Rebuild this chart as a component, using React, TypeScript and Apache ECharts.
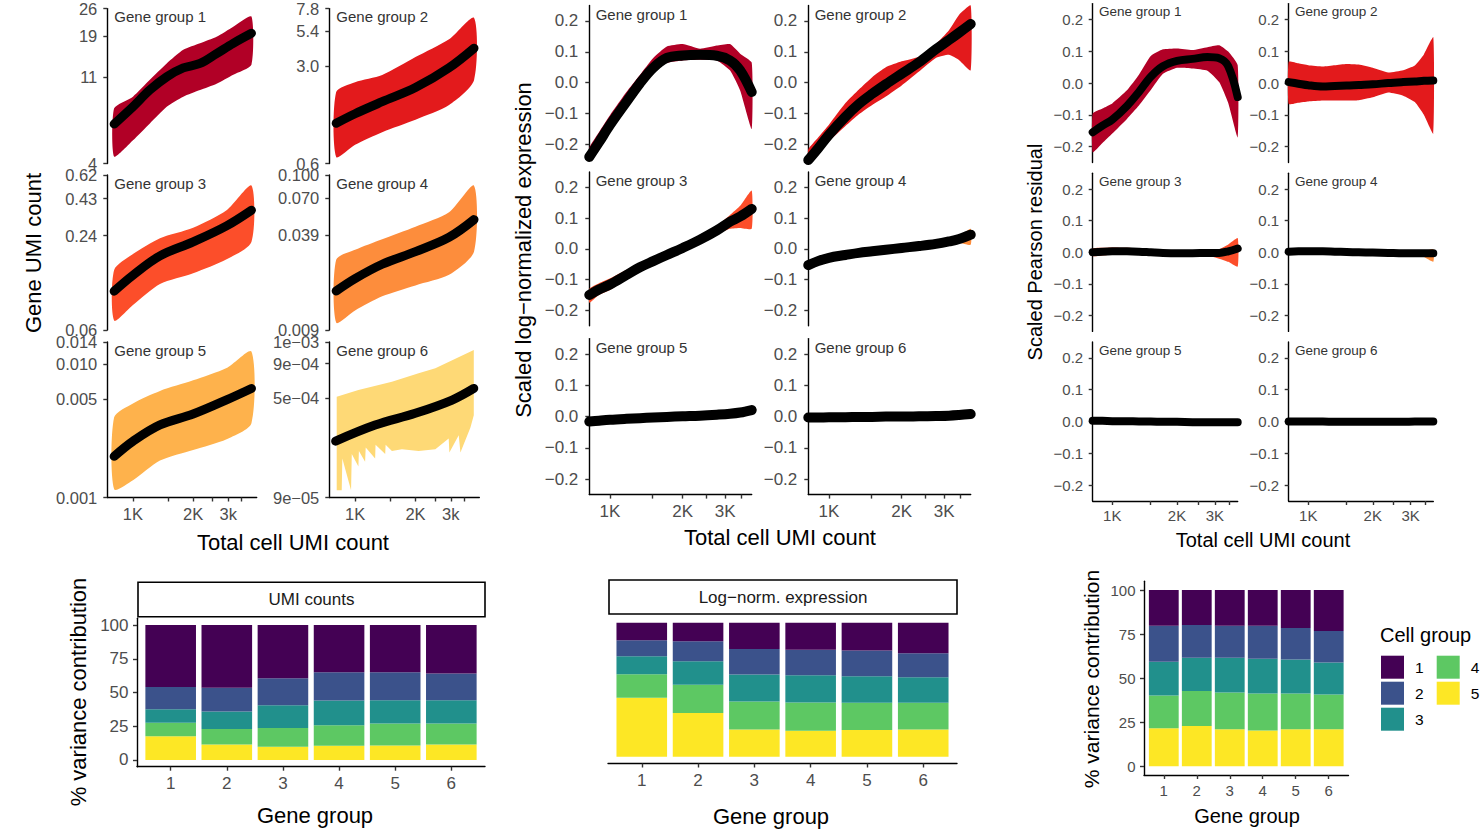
import React, { useEffect, useRef } from 'react';
import * as echarts from 'echarts';

const FONT = '"Liberation Sans", Arial, Helvetica, sans-serif';

// ---------------- data ----------------
const GENE_GROUPS = ['1', '2', '3', '4', '5', '6'];
const CELL_GROUPS = ['1', '2', '3', '4', '5'];
const GENE_IDS = [1, 2, 3, 4, 5, 6];
const GROUP_COLORS = ['#B10026', '#E31A1C', '#FC4E2A', '#FD8D3C', '#FEB24C', '#FED976'];
const CELL_COLORS = ['#440154', '#3B528B', '#21908C', '#5DC863', '#FDE725'];

const X_TICKS = [1000, 1500, 2000, 2500, 3000, 3500];
const X_LABELS_UMI = ['1K', '', '2K', '', '3k', ''];
const X_LABELS = ['1K', '', '2K', '', '3K', ''];

// Block A: gene UMI count (log axes)
const UMI1_X = [805, 1000, 1215, 1475, 1785, 2165, 2620, 3175, 3915];
const UMI1_MEAN = [6.45, 7.95, 9.73, 11.4, 12.7, 13.4, 15.1, 17.1, 19.3];
const UMI1_UPPER = [7.8, 8.98, 11.0, 13.4, 15.8, 17.1, 18.5, 20.9, 23.6];
const UMI1_LOWER = [4.35, 5.3, 6.5, 7.95, 8.98, 9.73, 10.5, 11.7, 13.2];
const UMI_X = [805, 1000, 1365, 2000, 2940, 3915];
const UMI_MEAN = [
  [1.17, 1.37, 1.67, 2.11, 2.93, 4.05],
  [0.105, 0.134, 0.18, 0.223, 0.285, 0.362],
  [0.0165, 0.02, 0.025, 0.0304, 0.038, 0.05],
  [0.00201, 0.0026, 0.00343, 0.00412, 0.00524, 0.00636],
];
const UMI_UPPER = [
  [1.96, 2.31, 2.6, 3.5, 4.7, 6.7],
  [0.145, 0.185, 0.236, 0.277, 0.362, 0.528],
  [0.0268, 0.0313, 0.0369, 0.0448, 0.056, 0.0847],
  [0.0039, 0.00494, 0.0061, 0.0073, 0.009, 0.0119],
];
const UMI_LOWER = [
  [0.67, 0.82, 1.01, 1.24, 1.58, 2.38],
  [0.067, 0.085, 0.117, 0.138, 0.171, 0.223],
  [0.0101, 0.0122, 0.0152, 0.018, 0.0212, 0.0304],
  [0.00115, 0.00134, 0.00187, 0.00224, 0.00269, 0.00353],
];
const UMI6_MEAN_X = [800, 1259, 1995, 3045, 3905];
const UMI6_MEAN = [2.37e-4, 3.12e-4, 3.82e-4, 4.8e-4, 5.86e-4];
const UMI6_UPPER_X = [810, 1039, 1526, 2073, 2512, 3905];
const UMI6_UPPER = [5.08e-4, 5.7e-4, 6.58e-4, 7.6e-4, 8.28e-4, 1.135e-3];
const UMI6_LOWER_X = [810, 858, 864, 955, 963, 1039, 1045, 1122, 1130, 1259, 1265, 1413, 1420, 1526, 1712, 2073, 2512, 2928, 2951, 3285, 3350, 3758, 3905];
const UMI6_LOWER = [1.02e-4, 1.02e-4, 1.76e-4, 1.02e-4, 1.9e-4, 1.53e-4, 2.0e-4, 1.66e-4, 2.12e-4, 1.76e-4, 2.23e-4, 1.9e-4, 2.23e-4, 2.0e-4, 2.06e-4, 2.0e-4, 2.06e-4, 2.48e-4, 1.95e-4, 2.62e-4, 1.95e-4, 2.99e-4, 3.7e-4];
const UMI_Y_TICKS = [
  [4, 11.333, 18.667, 26],
  [0.6, 3.0, 5.4, 7.8],
  [0.058, 0.245, 0.4325, 0.62],
  [0.009, 0.0393, 0.0697, 0.1],
  [0.001, 0.00533, 0.00967, 0.014],
  [9e-5, 4.93e-4, 8.97e-4, 1.3e-3],
];
const UMI_Y_LABELS = [
  ['4', '11', '19', '26'],
  ['0.6', '3.0', '5.4', '7.8'],
  ['0.06', '0.24', '0.43', '0.62'],
  ['0.009', '0.039', '0.070', '0.100'],
  ['0.001', '0.005', '0.010', '0.014'],
  ['9e\u221205', '5e\u221204', '9e\u221204', '1e\u221203'],
];

// Block B: scaled log-normalized expression
const LOG_X = [821, 900, 1000, 1170, 1330, 1510, 1720, 2000, 2360, 2770, 3140, 3460, 3863];
const LOG_MEAN = [
  [-0.24, -0.193, -0.137, -0.062, -0.002, 0.048, 0.08, 0.088, 0.09, 0.087, 0.072, 0.04, -0.03],
  [-0.25, -0.213, -0.168, -0.11, -0.069, -0.036, -0.005, 0.029, 0.066, 0.108, 0.138, 0.162, 0.19],
  [-0.15, -0.132, -0.116, -0.085, -0.06, -0.04, -0.02, 0.003, 0.03, 0.06, 0.088, 0.105, 0.13],
  [-0.053, -0.04, -0.029, -0.02, -0.013, -0.008, -0.003, 0.003, 0.009, 0.016, 0.024, 0.032, 0.046],
  [-0.016, -0.013, -0.01, -0.007, -0.005, -0.003, -0.001, 0.001, 0.003, 0.006, 0.009, 0.013, 0.021],
  [-0.003, -0.003, -0.002, -0.002, -0.001, -0.001, 0.0, 0.0, 0.001, 0.002, 0.003, 0.005, 0.008],
];
const LOG_UPPER = [
  [-0.21, -0.16, -0.105, -0.03, 0.025, 0.08, 0.117, 0.125, 0.11, 0.12, 0.125, 0.094, 0.065],
  [-0.215, -0.178, -0.136, -0.066, -0.022, 0.018, 0.05, 0.069, 0.084, 0.125, 0.17, 0.22, 0.26],
  [-0.13, -0.112, -0.096, -0.068, -0.045, -0.027, -0.01, 0.012, 0.04, 0.075, 0.11, 0.14, 0.19],
  [-0.043, -0.032, -0.022, -0.014, -0.008, -0.003, 0.002, 0.008, 0.014, 0.021, 0.03, 0.04, 0.065],
  [-0.012, -0.009, -0.006, -0.003, -0.001, 0.001, 0.003, 0.005, 0.007, 0.01, 0.013, 0.018, 0.026],
  [0.0, 0.0, 0.001, 0.001, 0.002, 0.002, 0.003, 0.003, 0.004, 0.005, 0.006, 0.008, 0.011],
];
const LOG_LOWER = [
  [-0.255, -0.21, -0.16, -0.085, -0.02, 0.035, 0.064, 0.072, 0.074, 0.072, 0.04, -0.025, -0.15],
  [-0.27, -0.232, -0.19, -0.14, -0.102, -0.072, -0.045, -0.009, 0.036, 0.08, 0.09, 0.073, 0.04],
  [-0.175, -0.15, -0.134, -0.1, -0.075, -0.053, -0.03, -0.005, 0.022, 0.048, 0.065, 0.068, 0.065],
  [-0.068, -0.05, -0.036, -0.026, -0.018, -0.013, -0.008, -0.003, 0.003, 0.01, 0.016, 0.02, 0.013],
  [-0.021, -0.018, -0.015, -0.012, -0.01, -0.008, -0.006, -0.004, -0.002, 0.001, 0.004, 0.006, 0.006],
  [-0.006, -0.006, -0.005, -0.005, -0.004, -0.004, -0.003, -0.003, -0.002, -0.001, 0.0, 0.002, 0.004],
];

// Block C: scaled Pearson residual
const PR_X = [811, 900, 1000, 1170, 1330, 1510, 1720, 2000, 2360, 2770, 3140, 3460, 3829];
const PR_MEAN = [
  [-0.155, -0.134, -0.115, -0.072, -0.028, 0.02, 0.053, 0.07, 0.076, 0.082, 0.078, 0.053, -0.044],
  [0.003, -0.002, -0.007, -0.011, -0.009, -0.008, -0.006, -0.004, 0.0, 0.003, 0.005, 0.007, 0.008],
  [0.0, 0.002, 0.003, 0.003, 0.002, 0.0, -0.002, -0.003, -0.003, -0.002, -0.002, 0.003, 0.012],
  [0.002, 0.003, 0.003, 0.003, 0.002, 0.001, 0.0, -0.001, -0.002, -0.003, -0.003, -0.003, -0.003],
  [0.002, 0.002, 0.001, 0.001, 0.0, 0.0, -0.001, -0.001, -0.002, -0.002, -0.002, -0.002, -0.002],
  [0.0, 0.0, 0.0, 0.0, -0.001, -0.001, -0.001, -0.001, -0.001, -0.001, 0.0, 0.0, 0.0],
];
const PR_UPPER = [
  [-0.096, -0.08, -0.064, -0.023, 0.026, 0.085, 0.106, 0.109, 0.104, 0.113, 0.119, 0.099, 0.056],
  [0.067, 0.062, 0.056, 0.052, 0.056, 0.06, 0.058, 0.048, 0.033, 0.04, 0.055, 0.09, 0.144],
  [0.012, 0.014, 0.015, 0.014, 0.012, 0.008, 0.003, 0.0, 0.0, 0.003, 0.01, 0.025, 0.045],
  [0.006, 0.007, 0.007, 0.007, 0.006, 0.005, 0.004, 0.003, 0.002, 0.001, 0.001, 0.003, 0.01],
  [0.005, 0.005, 0.004, 0.004, 0.003, 0.003, 0.002, 0.002, 0.001, 0.001, 0.001, 0.001, 0.002],
  [0.003, 0.003, 0.003, 0.003, 0.002, 0.002, 0.002, 0.002, 0.002, 0.002, 0.003, 0.003, 0.004],
];
const PR_LOWER = [
  [-0.218, -0.189, -0.159, -0.113, -0.071, -0.022, 0.029, 0.048, 0.046, 0.039, 0.003, -0.063, -0.171],
  [-0.066, -0.062, -0.058, -0.055, -0.055, -0.055, -0.054, -0.045, -0.03, -0.04, -0.06, -0.1, -0.159],
  [-0.012, -0.01, -0.008, -0.007, -0.008, -0.009, -0.01, -0.008, -0.007, -0.01, -0.02, -0.03, -0.045],
  [-0.004, -0.003, -0.003, -0.003, -0.004, -0.005, -0.006, -0.007, -0.008, -0.009, -0.01, -0.015, -0.03],
  [-0.002, -0.002, -0.003, -0.003, -0.004, -0.004, -0.005, -0.005, -0.006, -0.006, -0.006, -0.008, -0.012],
  [-0.003, -0.003, -0.003, -0.003, -0.004, -0.004, -0.004, -0.004, -0.004, -0.004, -0.004, -0.004, -0.005],
];
const SCALED_TICKS = [-0.2, -0.1, 0, 0.1, 0.2];
const SCALED_LABELS = ['\u22120.2', '\u22120.1', '0.0', '0.1', '0.2'];

// % variance contribution, per cell group (rows) x gene group (cols)
const UMI_SHARE = [
  [46, 46.5, 39.5, 35, 35, 36],
  [16.5, 17.5, 20, 21, 20.75, 19.75],
  [10, 13, 16.75, 18.25, 17.25, 17.25],
  [10, 11.5, 14, 15.25, 16.25, 15.5],
  [17.5, 11.5, 9.75, 10.5, 10.75, 11.5],
];
const LOG_SHARE = [
  [13, 13.75, 19.7, 20.1, 20.8, 22.8],
  [12, 15, 19, 19.1, 19.2, 17.9],
  [13.5, 17.5, 20, 20.4, 19.7, 19],
  [17.5, 21, 21, 21, 20.3, 20],
  [44, 32.75, 20.3, 19.4, 20, 20.3],
];
const PR_SHARE = [
  [20.3, 19.8, 20.3, 20.3, 21.5, 23.2],
  [20.4, 18.6, 18.1, 18.7, 18, 18],
  [19.2, 18.9, 19.8, 19.8, 19.3, 18.1],
  [18.6, 19.9, 20.9, 20.9, 20.3, 19.8],
  [21.5, 22.8, 20.9, 20.3, 20.9, 20.9],
];
const PCT_TICKS = [0, 25, 50, 75, 100];

// ---------------- layout ----------------
const BLOCKS = [
  { cols: [[107.3, 256.7], [329.3, 479.3]], rows: [[8.6, 163.6], [175, 330], [342, 497.5]], xRange: [744, 4160], tickFont: 16.5, titleFont: 15, lineW: 9, dx: 7, dy: 8.2, yMargin: 10, xMargin: 8 },
  { cols: [[589.3, 751.7], [808.3, 970.7]], rows: [[5.4, 160], [172, 325.7], [338.6, 494.6]], xRange: [821, 3863], tickFont: 17, titleFont: 15, lineW: 10, dx: 6.4, dy: 8.9, yMargin: 11, xMargin: 8 },
  { cols: [[1092.7, 1237.7], [1288.7, 1433.3]], rows: [[3.6, 162.5], [173.2, 331.4], [342, 501]], xRange: [811, 3829], tickFont: 15, titleFont: 13.5, lineW: 8, dx: 6.3, dy: 8.2, yMargin: 9.5, xMargin: 7 },
];

const AXIS_LINE = { color: '#000', width: 1.4 };
const TICK_LINE = { color: '#333', width: 1.4 };
const TICK_COLOR = '#4D4D4D';

function nearest(v: number, ticks: number[], labels: string[]) {
  let b = 0;
  for (let i = 1; i < ticks.length; i++) if (Math.abs(ticks[i] - v) < Math.abs(ticks[b] - v)) b = i;
  return labels[b];
}

function buildOption() {
  const grids: any[] = [];
  const xAxes: any[] = [];
  const yAxes: any[] = [];
  const series: any[] = [];
  const graphics: any[] = [];

  const addPanel = (p: any) => {
    const i = grids.length;
    grids.push({ left: p.left, top: p.top, width: p.width, height: p.height, containLabel: false, outerBoundsMode: 'none' });
    const xt = X_TICKS.map(Math.log10);
    xAxes.push({
      type: 'value', gridIndex: i, min: Math.log10(p.xRange[0]), max: Math.log10(p.xRange[1]),
      axisLine: { show: p.bottom, onZero: false, lineStyle: AXIS_LINE },
      axisTick: { show: p.bottom, customValues: xt, length: 4, lineStyle: TICK_LINE },
      axisLabel: { show: p.bottom, customValues: xt, margin: p.xMargin, fontSize: p.tickFont, color: TICK_COLOR, fontFamily: FONT,
        formatter: (v: number) => nearest(v, xt, p.xLabels) },
      splitLine: { show: false },
    });
    const ty = (v: number) => (p.yLog ? Math.log10(v) : v);
    const yt = p.yTicks.map(ty);
    yAxes.push({
      type: 'value', gridIndex: i, min: ty(p.yRange[0]), max: ty(p.yRange[1]),
      axisLine: { show: true, onZero: false, lineStyle: AXIS_LINE },
      axisTick: { show: true, customValues: yt, length: 4, lineStyle: TICK_LINE },
      axisLabel: { show: true, customValues: yt, margin: p.yMargin, fontSize: p.tickFont, color: TICK_COLOR, fontFamily: FONT,
        formatter: (v: number) => nearest(v, yt, p.yLabels) },
      splitLine: { show: false },
    });
    const upper = p.upX.map((x: number, k: number) => [Math.log10(x), ty(p.up[k])]);
    const lower = p.loX.map((x: number, k: number) => [Math.log10(x), ty(p.lo[k])]).reverse();
    const poly = upper.concat(lower);
    const color = p.color;
    const smooth = p.smooth;
    series.push({
      type: 'custom', xAxisIndex: i, yAxisIndex: i, silent: true, z: 2,
      encode: { x: 0, y: 1 },
      data: [[poly[0][0], Math.max(Math.min(poly[0][1], ty(p.yRange[1])), ty(p.yRange[0]))]],
      renderItem: (params: any, api: any) => {
        const cs = params.coordSys;
        const pts = poly.map((q: number[]) => {
          const c = api.coord(q);
          return [c[0], Math.min(Math.max(c[1], cs.y), cs.y + cs.height)];
        });
        return { type: 'polygon', shape: { points: pts, smooth }, style: { fill: color } };
      },
    });
    series.push({
      type: 'line', xAxisIndex: i, yAxisIndex: i, silent: true, z: 3,
      data: p.meanX.map((x: number, k: number) => [Math.log10(x), ty(p.mean[k])]),
      smooth: 0.35, symbol: 'none',
      lineStyle: { color: '#000', width: p.lineW, cap: 'round', join: 'round' },
    });
    graphics.push({
      type: 'text', x: p.left + p.dx, y: p.top + p.dy, silent: true,
      style: { text: 'Gene group ' + p.name, fontSize: p.titleFont, fontFamily: FONT, fill: '#333', align: 'left', verticalAlign: 'middle' },
    });
  };

  // three faceted blocks
  BLOCKS.forEach((B, bi) => {
    for (let g = 0; g < 6; g++) {
      const col = B.cols[g % 2];
      const row = B.rows[Math.floor(g / 2)];
      const base: any = {
        left: col[0], top: row[0], width: col[1] - col[0], height: row[1] - row[0],
        xRange: B.xRange, bottom: g >= 4, tickFont: B.tickFont, titleFont: B.titleFont, lineW: B.lineW,
        dx: B.dx, dy: B.dy, yMargin: B.yMargin, xMargin: B.xMargin, color: GROUP_COLORS[g], name: GENE_GROUPS[g],
      };
      if (bi === 0) {
        base.xLabels = X_LABELS_UMI;
        base.yLog = true;
        base.yTicks = UMI_Y_TICKS[g];
        base.yLabels = UMI_Y_LABELS[g];
        base.yRange = [UMI_Y_TICKS[g][0], UMI_Y_TICKS[g][3]];
        if (g === 0) {
          Object.assign(base, { meanX: UMI1_X, mean: UMI1_MEAN, upX: UMI1_X, up: UMI1_UPPER, loX: UMI1_X, lo: UMI1_LOWER, smooth: 0.2 });
        } else if (g < 5) {
          Object.assign(base, { meanX: UMI_X, mean: UMI_MEAN[g - 1], upX: UMI_X, up: UMI_UPPER[g - 1], loX: UMI_X, lo: UMI_LOWER[g - 1], smooth: 0.25 });
        } else {
          Object.assign(base, { meanX: UMI6_MEAN_X, mean: UMI6_MEAN, upX: UMI6_UPPER_X, up: UMI6_UPPER, loX: UMI6_LOWER_X, lo: UMI6_LOWER, smooth: 0 });
        }
      } else {
        const X = bi === 1 ? LOG_X : PR_X;
        const M = bi === 1 ? LOG_MEAN : PR_MEAN;
        const U = bi === 1 ? LOG_UPPER : PR_UPPER;
        const L = bi === 1 ? LOG_LOWER : PR_LOWER;
        Object.assign(base, {
          xLabels: X_LABELS, yLog: false, yTicks: SCALED_TICKS, yLabels: SCALED_LABELS, yRange: [-0.25, 0.25],
          meanX: X, mean: M[g], upX: X, up: U[g], loX: X, lo: L[g], smooth: 0.15,
        });
      }
      addPanel(base);
    }
  });

  // stacked bar charts: a visible grid for the axes (discrete range 0.4..6.6)
  // and an overlaid category grid (hidden axes) spanning 0.5..6.5 for the stacked bars
  const BARS = [
    { shares: UMI_SHARE, left: 137, right: 485, top: 618.3, bottom: 766.7, showY: true, barW: 50.6, font: 17, stack: 'umi' },
    { shares: LOG_SHARE, left: 608, right: 957, top: 616, bottom: 763.5, showY: false, barW: 50.6, font: 17, stack: 'log' },
    { shares: PR_SHARE, left: 1144, right: 1348.5, top: 581.2, bottom: 775, showY: true, barW: 29.8, font: 15, stack: 'pr' },
  ];
  BARS.forEach((b) => {
    const i = grids.length;
    const W = b.right - b.left;
    const unit = W / 6.2;
    grids.push({ left: b.left, top: b.top, width: W, height: b.bottom - b.top, containLabel: false, outerBoundsMode: 'none' });
    xAxes.push({
      type: 'value', gridIndex: i, min: 0.4, max: 6.6,
      axisLine: { show: true, onZero: false, lineStyle: AXIS_LINE },
      axisTick: { show: true, customValues: GENE_IDS, length: 4, lineStyle: TICK_LINE },
      axisLabel: { customValues: GENE_IDS, margin: 8, fontSize: b.font, color: TICK_COLOR, fontFamily: FONT, formatter: (v: number) => String(Math.round(v)) },
      splitLine: { show: false },
    });
    yAxes.push({
      type: 'value', gridIndex: i, min: -5, max: 105,
      axisLine: { show: b.showY, onZero: false, lineStyle: AXIS_LINE },
      axisTick: { show: b.showY, customValues: PCT_TICKS, length: 4, lineStyle: TICK_LINE },
      axisLabel: { show: b.showY, customValues: PCT_TICKS, margin: 8.5, fontSize: b.font, color: TICK_COLOR, fontFamily: FONT, formatter: (v: number) => String(Math.round(v)) },
      splitLine: { show: false },
    });
    const j = grids.length;
    grids.push({ left: b.left + 0.1 * unit, top: b.top, width: 6 * unit, height: b.bottom - b.top, containLabel: false, outerBoundsMode: 'none' });
    xAxes.push({ type: 'category', gridIndex: j, data: GENE_GROUPS, show: false, boundaryGap: true });
    yAxes.push({ type: 'value', gridIndex: j, min: -5, max: 105, show: false, splitLine: { show: false } });
    for (let c = CELL_GROUPS.length - 1; c >= 0; c--) {
      series.push({
        type: 'bar', name: CELL_GROUPS[c], xAxisIndex: j, yAxisIndex: j, stack: b.stack, barWidth: b.barW, silent: true,
        itemStyle: { color: CELL_COLORS[c] },
        data: b.shares[c],
      });
    }
  });

  const txt = (text: string, x: number, y: number, size: number, opts: any = {}) => ({
    type: 'text', x, y, rotation: opts.rot || 0, silent: true,
    style: { text, fontSize: size, fontFamily: FONT, fill: opts.fill || '#000', align: opts.align || 'center', verticalAlign: 'middle' },
  });
  const R = Math.PI / 2;
  graphics.push(
    txt('Gene UMI count', 33, 253, 22, { rot: R }),
    txt('Scaled log\u2212normalized expression', 523, 250, 22, { rot: R }),
    txt('Scaled Pearson residual', 1035, 252, 20, { rot: R }),
    txt('Total cell UMI count', 293, 542, 22),
    txt('Total cell UMI count', 780, 537.5, 22),
    txt('Total cell UMI count', 1263, 540, 20),
    { type: 'rect', silent: true, shape: { x: 138, y: 582.3, width: 347, height: 34.4 }, style: { fill: '#fff', stroke: '#000', lineWidth: 1.6 } },
    txt('UMI counts', 311.5, 599.5, 17, { fill: '#1A1A1A' }),
    { type: 'rect', silent: true, shape: { x: 609, y: 580, width: 348, height: 34 }, style: { fill: '#fff', stroke: '#000', lineWidth: 1.6 } },
    txt('Log\u2212norm. expression', 783, 597, 17, { fill: '#1A1A1A' }),
    txt('% variance contribution', 78, 692, 22, { rot: R }),
    txt('% variance contribution', 1091, 679, 21, { rot: R }),
    txt('Gene group', 315, 815, 22),
    txt('Gene group', 771, 816.5, 22),
    txt('Gene group', 1247, 816, 20),
    txt('Cell group', 1380, 635, 20, { align: 'left' }),
  );

  const legendBase = {
    orient: 'vertical', top: 655.7, itemWidth: 23, itemHeight: 23, itemGap: 3, icon: 'rect', padding: 0,
    selectedMode: false, textStyle: { fontSize: 15.5, color: '#000', fontFamily: FONT, padding: [0, 0, 0, 6] },
  };

  return {
    animation: false,
    backgroundColor: '#fff',
    textStyle: { fontFamily: FONT },
    grid: grids,
    xAxis: xAxes,
    yAxis: yAxes,
    series,
    legend: [
      { ...legendBase, left: 1381, data: ['1', '2', '3'] },
      { ...legendBase, left: 1436.7, data: ['4', '5'] },
    ],
    graphic: graphics,
  };
}

export default function App() {
  const ref = useRef<HTMLDivElement>(null);
  useEffect(() => {
    const chart = echarts.init(ref.current as HTMLDivElement, null, { renderer: 'svg' });
    chart.setOption(buildOption() as any);
    return () => chart.dispose();
  }, []);
  return <div ref={ref} style={{ position: 'fixed', left: 0, top: 0, width: 1480, height: 829, background: '#fff' }} />;
}
